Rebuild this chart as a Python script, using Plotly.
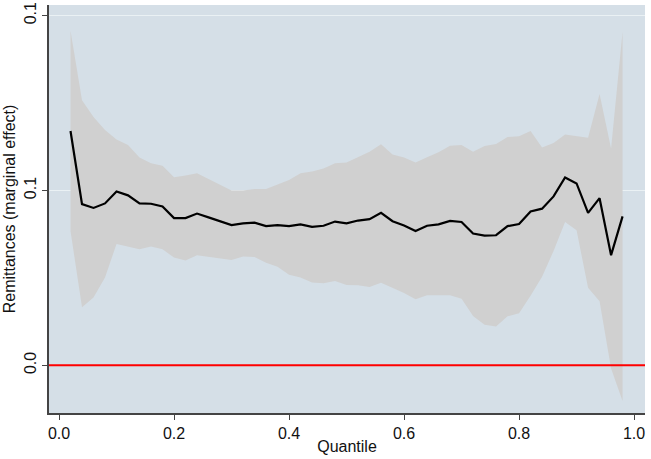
import plotly.graph_objects as go

quantile = [round(0.02 * k, 2) for k in range(1, 50)]

effect = [0.0670, 0.0461, 0.0450, 0.0463, 0.0497, 0.0486, 0.0463, 0.0462, 0.0454, 0.0421,
          0.0421, 0.0434, 0.0423, 0.0412, 0.0401, 0.0406, 0.0408, 0.0398, 0.0401, 0.0398,
          0.0403, 0.0396, 0.0399, 0.0411, 0.0406, 0.0414, 0.0418, 0.0436, 0.0412, 0.0400,
          0.0384, 0.0399, 0.0403, 0.0413, 0.0410, 0.0377, 0.0371, 0.0372, 0.0398, 0.0404,
          0.0440, 0.0448, 0.0483, 0.0537, 0.0520, 0.0436, 0.0478, 0.0315, 0.0426]

upper = [0.0957, 0.0758, 0.0710, 0.0673, 0.0646, 0.0630, 0.0594, 0.0578, 0.0571, 0.0538,
         0.0543, 0.0549, 0.0533, 0.0516, 0.0500, 0.0500, 0.0504, 0.0504, 0.0518, 0.0530,
         0.0549, 0.0554, 0.0563, 0.0578, 0.0580, 0.0595, 0.0611, 0.0632, 0.0603, 0.0594,
         0.0580, 0.0595, 0.0609, 0.0628, 0.0630, 0.0611, 0.0627, 0.0633, 0.0653, 0.0655,
         0.0670, 0.0623, 0.0636, 0.0660, 0.0655, 0.0651, 0.0776, 0.0620, 0.0954]

lower = [0.0384, 0.0166, 0.0194, 0.0251, 0.0347, 0.0340, 0.0332, 0.0340, 0.0332, 0.0308,
         0.0300, 0.0315, 0.0310, 0.0305, 0.0301, 0.0311, 0.0310, 0.0293, 0.0282, 0.0259,
         0.0251, 0.0237, 0.0235, 0.0241, 0.0230, 0.0229, 0.0224, 0.0236, 0.0221, 0.0207,
         0.0189, 0.0200, 0.0200, 0.0200, 0.0190, 0.0141, 0.0116, 0.0111, 0.0140, 0.0149,
         0.0199, 0.0253, 0.0327, 0.0410, 0.0386, 0.0222, 0.0183, -0.0009, -0.0102]

y_tickvals = [0.0, 0.05, 0.1]
y_ticktext = ["0.0", "0.1", "0.1"]
x_tickvals = [0.0, 0.2, 0.4, 0.6, 0.8, 1.0]
x_ticktext = ["0.0", "0.2", "0.4", "0.6", "0.8", "1.0"]

FONT = "Liberation Sans, Arial, sans-serif"

fig = go.Figure()
fig.add_trace(go.Scatter(x=quantile, y=upper, mode="lines", line=dict(width=0, color="#cfcfcf"),
                         showlegend=False, hoverinfo="skip"))
fig.add_trace(go.Scatter(x=quantile, y=lower, mode="lines", line=dict(width=0, color="#cfcfcf"),
                         fill="tonexty", fillcolor="#d0d0d0", showlegend=False, hoverinfo="skip"))
fig.add_hline(y=0, line=dict(color="#ff0000", width=2), layer="above")
fig.add_trace(go.Scatter(x=quantile, y=effect, mode="lines", line=dict(width=2.2, color="black"),
                         showlegend=False))

fig.update_layout(
    width=651, height=459,
    margin=dict(l=49, r=6, t=2, b=46),
    paper_bgcolor="white",
    plot_bgcolor="#d5dfe7",
    font=dict(family=FONT, size=16, color="#111111"),
    xaxis=dict(
        range=[-0.0174, 1.019], tickvals=x_tickvals, ticktext=x_ticktext,
        showgrid=False, zeroline=False, showline=True, linecolor="#444444", linewidth=1.5,
        ticks="outside", ticklen=5, tickcolor="#444444", tickfont=dict(size=16),
        ticklabeloverflow="allow",
        title=dict(text="Quantile", standoff=0, font=dict(size=16)),
    ),
    yaxis=dict(
        range=[-0.01364, 0.10304], tickvals=y_tickvals, ticktext=y_ticktext, tickangle=-90,
        showgrid=True, gridcolor="#eaf1f4", gridwidth=1, zeroline=False,
        showline=True, linecolor="#444444", linewidth=1.5,
        ticks="outside", ticklen=5, tickcolor="#444444", tickfont=dict(size=16),
        ticklabeloverflow="allow",
        title=dict(text="Remittances (marginal effect)", standoff=2, font=dict(size=16)),
    ),
)

fig.write_html("out.html")
